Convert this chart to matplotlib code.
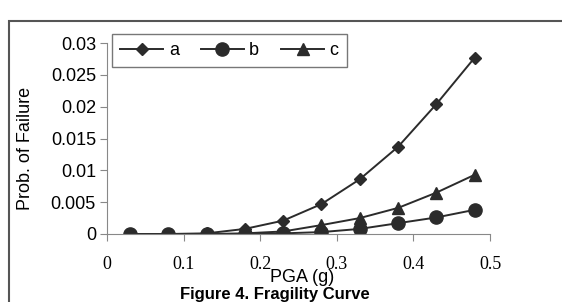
import matplotlib.pyplot as plt
from matplotlib.patches import Rectangle

pga = [0.03, 0.08, 0.13, 0.18, 0.23, 0.28, 0.33, 0.38, 0.43, 0.48]
prob_a = [0.0, 0.0, 0.0001, 0.0008, 0.0021, 0.0047, 0.0086, 0.0137, 0.0204, 0.0277]
prob_b = [0.0, 0.0, 0.0, 0.0, 0.0001, 0.0003, 0.0008, 0.0017, 0.0026, 0.0038]
prob_c = [0.0, 0.0, 0.0, 0.0001, 0.0004, 0.0014, 0.0025, 0.0041, 0.0065, 0.0093]
series_names = ["a", "b", "c"]

plt.rcParams['font.family'] = ['Liberation Sans', 'DejaVu Sans']

fig = plt.figure(figsize=(5.62, 3.02), dpi=100)
ax = fig.add_axes([107 / 562, 1 - 234 / 302, (490 - 107) / 562, (234 - 43) / 302])

col = '#2b2b2b'
ax.plot(pga, prob_a, color=col, lw=1.4, marker='D', ms=6.5, label=series_names[0])
ax.plot(pga, prob_b, color=col, lw=1.4, marker='o', ms=9.5, label=series_names[1])
ax.plot(pga, prob_c, color=col, lw=1.4, marker='^', ms=8.5, label=series_names[2])

ax.set_xlim(0, 0.5)
ax.set_ylim(0, 0.03)
ax.set_xticks([0, 0.1, 0.2, 0.3, 0.4, 0.5])
ax.set_xticklabels(['0', '0.1', '0.2', '0.3', '0.4', '0.5'], family='Liberation Serif', fontsize=13)
ax.set_yticks([0, 0.005, 0.01, 0.015, 0.02, 0.025, 0.03])
ax.set_yticklabels(['0', '0.005', '0.01', '0.015', '0.02', '0.025', '0.03'], fontsize=13)
for s in ['top', 'right']:
    ax.spines[s].set_visible(False)
for s in ['left', 'bottom']:
    ax.spines[s].set_color('#888888')
ax.tick_params(direction='out', length=5, color='#888888', pad=3)
ax.tick_params(axis='x', pad=11)

ax.set_xlabel("PGA (g)", fontsize=13, labelpad=-5)
ax.xaxis.set_label_coords(0.51, -0.185)
ax.set_ylabel("Prob. of Failure", fontsize=13)
ax.yaxis.set_label_coords(-0.19, 0.45)

leg = ax.legend(ncol=3, loc='upper left', bbox_to_anchor=(0.013, 1.047), fontsize=13,
                frameon=True, fancybox=False, edgecolor='#555555', handlelength=2.4,
                columnspacing=1.2, borderpad=0.45, borderaxespad=0, handletextpad=0.3)
leg.get_frame().set_linewidth(1.0)

fig.text(275 / 562, 1 - 294 / 302, "Figure 4. Fragility Curve", ha='center', va='center',
         fontsize=12, fontweight='bold')

fig.patches.append(Rectangle((9 / 562, -0.1), 1.0, 1 - 21 / 302 + 0.1, transform=fig.transFigure,
                             fill=False, edgecolor='#555555', lw=1.5))

fig.savefig("out.png", dpi=100)
